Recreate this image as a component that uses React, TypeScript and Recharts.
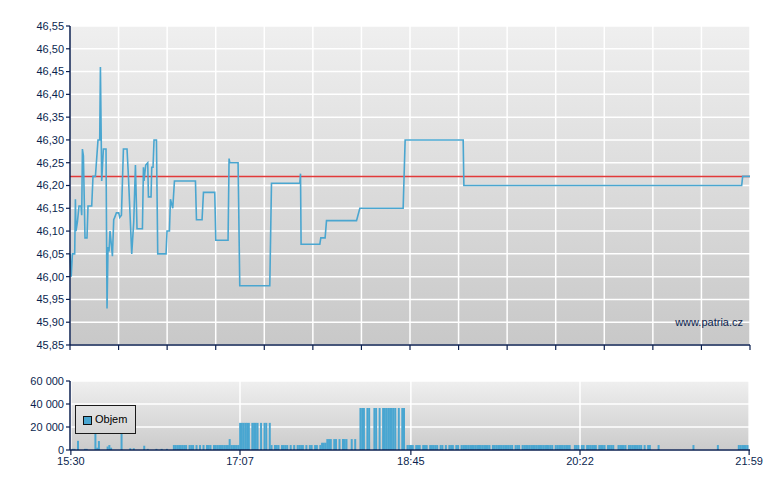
import React from 'react';
import {
  LineChart, Line, XAxis, YAxis, CartesianGrid, ReferenceLine,
  BarChart, Bar,
} from 'recharts';

// Price trace: minutes after 15:30 and price
const priceTimes = [
  0, 0.69, 1.37, 2.69, 3.09, 3.43, 4.24, 5.15, 6.3, 6.7, 7.1, 7.67, 8.58, 9.73, 10.3, 12.42,
  13.16, 14.54, 16.02, 17.0, 17.4, 18.14, 19.11, 20.6, 21.18, 21.75, 22.32, 22.89, 24.27, 25.01,
  25.58, 26.55, 27.87, 28.44, 29.42, 30.56, 32.62, 33.42, 35.31, 36.46, 37.43, 38.34, 41.43,
  42.01, 42.35, 43.32, 44.47, 44.87, 46.36, 46.76, 47.5, 48.07, 49.45, 50.19, 54.94, 55.51,
  56.89, 57.46, 58.78, 59.75, 71.77, 72.34, 75.54, 76.35, 82.81, 83.39, 90.42, 91.0, 91.4,
  96.15, 97.12, 114.29, 115.26, 131.46, 131.86, 132.2, 142.91, 143.48, 145.94, 146.74, 163.91,
  165.8, 190.58, 191.72, 224.92, 225.32, 384.24, 384.81, 389,
];
const priceValues = [
  46.05, 46.0, 46.05, 46.05, 46.17, 46.1, 46.12, 46.155, 46.155, 46.135, 46.28, 46.265, 46.085,
  46.085, 46.155, 46.155, 46.22, 46.22, 46.3, 46.3, 46.46, 46.21, 46.28, 46.28, 45.93, 46.065,
  46.055, 46.1, 46.045, 46.125, 46.13, 46.14, 46.14, 46.13, 46.135, 46.28, 46.28, 46.22, 46.05,
  46.12, 46.245, 46.105, 46.105, 46.24, 46.21, 46.245, 46.25, 46.175, 46.175, 46.24, 46.24,
  46.3, 46.3, 46.05, 46.05, 46.1, 46.1, 46.17, 46.15, 46.21, 46.21, 46.125, 46.125, 46.185,
  46.185, 46.08, 46.08, 46.259, 46.25, 46.25, 45.98, 45.98, 46.205, 46.205, 46.226, 46.071,
  46.071, 46.085, 46.085, 46.123, 46.123, 46.15, 46.15, 46.3, 46.3, 46.2, 46.2, 46.22, 46.22,
];
const referencePrice = 46.22;
const priceTicks = [
  45.85, 45.9, 45.95, 46.0, 46.05, 46.1, 46.15, 46.2, 46.25, 46.3, 46.35, 46.4, 46.45, 46.5, 46.55,
];

// Volume runs: first minute, last minute, volume per minute
const volStart = [
  1, 4, 8, 14, 15, 16, 21, 22, 23, 29, 34, 36, 42, 44, 49, 52, 55,
  59, 68, 72, 74, 76, 78, 82, 91, 92,
  97, 104, 109, 111, 114,
  115, 117, 121, 126, 128, 130, 135, 137, 140, 143,
  144, 147, 151, 154, 156, 161, 163,
  166, 170, 174, 177, 179, 188, 190,
  193, 198, 202, 206, 212, 215, 217, 221, 224, 242, 255, 259, 278, 289, 293, 296, 303, 308,
  314, 320, 329, 331, 337, 357, 371, 383,
];
const volEnd = [
  2, 4, 9, 14, 15, 16, 21, 22, 23, 29, 34, 36, 42, 44, 49, 52, 55,
  66, 70, 72, 74, 76, 80, 90, 91, 96,
  102, 107, 109, 112, 114,
  115, 119, 124, 126, 128, 133, 135, 138, 141, 143,
  146, 149, 152, 154, 158, 161, 163,
  168, 171, 175, 177, 186, 188, 191,
  196, 200, 204, 210, 213, 215, 219, 222, 240, 253, 257, 276, 286, 291, 294, 301, 306, 311,
  318, 327, 329, 332, 337, 357, 371, 388,
];
const volValue = [
  1000, 8000, 1000, 19000, 2000, 7800, 3000, 4300, 2000, 13900, 1500, 1500, 3700, 1000, 1000, 1000, 1000,
  4300, 4300, 4300, 4300, 4300, 4300, 4300, 9500, 4300,
  23600, 23600, 23600, 23600, 23600,
  4300, 4300, 4300, 4300, 4300, 4300, 4300, 4300, 4300, 4300,
  6300, 9500, 9500, 9500, 9500, 9500, 9500,
  36500, 36500, 36500, 36500, 36500, 36500, 36500,
  4300, 4300, 4300, 4300, 4300, 4300, 4300, 4300, 4300, 4300, 4300, 4300, 4300, 4300, 4300, 4300, 4300, 4300,
  4300, 4300, 4300, 4300, 4300, 4300, 4300, 4300,
];
const sessionMinutes = 389;
const volTicks = [0, 97, 195, 292, 389];
const volTickLabels = ['15:30', '17:07', '18:45', '20:22', '21:59'];
const volYTicks = [0, 20000, 40000, 60000];

const priceData = priceTimes.map((t, i) => ({ t, p: priceValues[i] }));
const volData = Array.from({ length: sessionMinutes + 1 }, (_, m) => ({ m, v: 0 }));
volStart.forEach((s, i) => {
  for (let m = s; m <= volEnd[i]; m++) volData[m].v = volValue[i];
});
const topGridTicks = Array.from({ length: 15 }, (_, k) => (k * sessionMinutes) / 14);

const NAVY = '#0b1f4f';
const FONT = '"Liberation Sans", Arial, sans-serif';
const tickStyle = { fill: NAVY, fontSize: 11, fontFamily: FONT };

export default function App() {
  return (
    <div style={{ position: 'absolute', left: 0, top: 0, width: 780, height: 490, background: '#fff', fontFamily: FONT }}>
      <div style={{ position: 'absolute', left: 0, top: 0 }}>
        <LineChart width={780} height={360} data={priceData} margin={{ top: 26, right: 30, bottom: 0, left: 0 }}>
          <defs>
            <linearGradient id="bgTop" x1="0" y1="0" x2="0" y2="1">
              <stop offset="0%" stopColor="#efefef" />
              <stop offset="100%" stopColor="#c8c8c8" />
            </linearGradient>
          </defs>
          <CartesianGrid fill="url(#bgTop)" stroke="#ffffff" strokeWidth={1.5} />
          <XAxis
            dataKey="t" type="number" domain={[0, sessionMinutes]} ticks={topGridTicks} interval={0}
            height={15} tickSize={5} tickFormatter={() => ''}
            axisLine={{ stroke: NAVY, strokeWidth: 1.5 }} tickLine={{ stroke: NAVY, strokeWidth: 1.2 }}
          />
          <YAxis
            type="number" domain={[45.85, 46.55]} ticks={priceTicks} interval={0} width={70} tickSize={4}
            tickFormatter={(v: number) => v.toFixed(2).replace('.', ',')}
            tick={tickStyle} axisLine={{ stroke: NAVY, strokeWidth: 1.5 }} tickLine={{ stroke: NAVY, strokeWidth: 1.2 }}
            allowDataOverflow
          />
          <ReferenceLine y={referencePrice} stroke="#e23a3a" strokeWidth={1.5} />
          <Line type="linear" dataKey="p" stroke="#4aa6d0" strokeWidth={1.6} dot={false} isAnimationActive={false} />
        </LineChart>
      </div>
      <div style={{ position: 'absolute', right: 37, top: 317, fontSize: 11, lineHeight: '11px', color: NAVY, fontFamily: FONT }}>
        www.patria.cz
      </div>
      <div style={{ position: 'absolute', left: 0, top: 360 }}>
        <BarChart width={780} height={130} data={volData} margin={{ top: 21, right: 30, bottom: 15, left: 0 }}
          barCategoryGap={0} barGap={0}>
          <defs>
            <linearGradient id="bgBot" x1="0" y1="0" x2="0" y2="1">
              <stop offset="0%" stopColor="#efefef" />
              <stop offset="100%" stopColor="#cbcbcb" />
            </linearGradient>
          </defs>
          <CartesianGrid fill="url(#bgBot)" stroke="#ffffff" strokeWidth={1.5} />
          <XAxis
            dataKey="m" ticks={volTicks} interval={0} height={25} tickSize={5}
            tickFormatter={(v: number) => volTickLabels[volTicks.indexOf(v)] ?? ''}
            tick={tickStyle} axisLine={{ stroke: NAVY, strokeWidth: 1.5 }} tickLine={{ stroke: NAVY, strokeWidth: 1.2 }}
          />
          <YAxis
            type="number" domain={[0, 60000]} ticks={volYTicks} interval={0} width={70} tickSize={4}
            tickFormatter={(v: number) => (v === 0 ? '0' : `${Math.round(v / 1000)} 000`)}
            tick={tickStyle} axisLine={{ stroke: NAVY, strokeWidth: 1.5 }} tickLine={{ stroke: NAVY, strokeWidth: 1.2 }}
          />
          <Bar dataKey="v" fill="#49a6d1" isAnimationActive={false} />
        </BarChart>
      </div>
      <div style={{
        position: 'absolute', left: 75, top: 405, width: 59, height: 27, border: '1px solid #1a1a1a',
        background: 'linear-gradient(#e4e4e4, #d6d6d6)', fontFamily: FONT, fontSize: 11, color: '#000',
      }}>
        <div style={{ position: 'absolute', left: 7, top: 10, width: 7, height: 7, background: '#49a6d1', border: '1px solid #111' }} />
        <div style={{ position: 'absolute', left: 19, top: 7, lineHeight: '13px' }}>Objem</div>
      </div>
    </div>
  );
}
